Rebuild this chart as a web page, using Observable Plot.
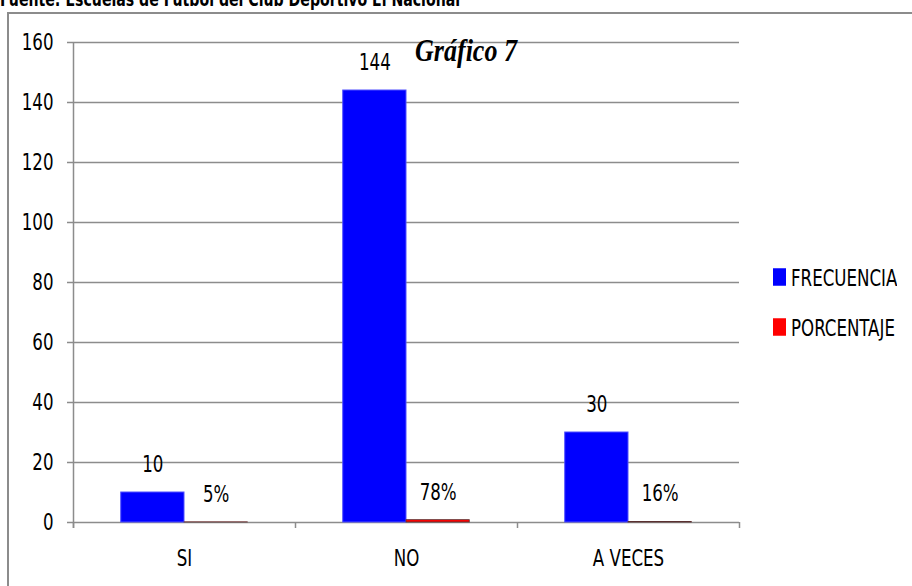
<!DOCTYPE html>
<html>
<head>
<meta charset="utf-8">
<script src="https://cdn.jsdelivr.net/npm/d3@7"></script>
<script src="https://cdn.jsdelivr.net/npm/@observablehq/plot@0.6"></script>
<style>
  body { margin: 0; background: #fff; width: 912px; height: 586px; overflow: hidden; position: relative;
         font-family: "DejaVu Sans Condensed", "Liberation Sans Narrow", sans-serif; }
  #fuente { position: absolute; left: 0; top: -8px; font-weight: bold; font-size: 15.7px; white-space: nowrap;
            transform: scaleY(1.2); transform-origin: 0 100%; }
  #marco { position: absolute; left: 7px; top: 12px; width: 940px; height: 620px;
           border-left: 2px solid #8c8c8c; border-top: 2px solid #8c8c8c; pointer-events: none; }
  #grafico { position: absolute; left: 0; top: 0; }
  #grafico text { fill: #000; }
  #titulo { position: absolute; left: 366px; top: 38px; width: 200px; text-align: center;
            font-family: "Liberation Serif", "DejaVu Serif", serif; font-weight: bold; font-style: italic;
            font-size: 26px; line-height: 26px; transform: scaleY(1.2); transform-origin: 50% 50%; }
  #leyenda { position: absolute; left: 773px; top: 252px; }
  #leyenda .ley-swatches { margin: 0; font-family: inherit; font-size: 18.5px; color: #000; }
  #leyenda .ley-swatch { height: 50px; padding: 0; display: flex; align-items: center;
                         transform: scaleY(1.25); transform-origin: 0 50%; }
  #leyenda .ley-swatch svg { margin-right: 5px; }
</style>
</head>
<body>
<div id="fuente">Fuente: Escuelas de Futbol del Club Deportivo El Nacional</div>
<div id="grafico"></div>
<div id="titulo">Gráfico 7</div>
<div id="leyenda"></div>
<div id="marco"></div>
<script>
// Respuestas por categoría
const categorias = ["SI", "NO", "A VECES"];
const frecuencia = [10, 144, 30];
const porcentaje = [0.05, 0.78, 0.16];
const series = ["FRECUENCIA", "PORCENTAJE"];
const colores = ["#0000ff", "#ff0000"];
const ticksY = [0, 20, 40, 60, 80, 100, 120, 140, 160];

const ANCHO = 0.285;          // ancho de cada barra, en unidades de categoría
const GRIS = "#8c8c8c";
const filas = categorias.map((c, i) => ({i, categoria: c, frecuencia: frecuencia[i], porcentaje: porcentaje[i]}));
const limites = d3.range(categorias.length + 1).map(k => k - 0.5);
const pct = d3.format(".0%");

const grafico = Plot.plot({
  width: 912,
  height: 586,
  marginLeft: 73,
  marginRight: 173,
  marginTop: 42,
  marginBottom: 64,
  style: {background: "transparent", color: GRIS, fontFamily: "'DejaVu Sans Condensed', 'Liberation Sans Narrow', sans-serif", fontSize: "18.5px"},
  x: {domain: [-0.5, categorias.length - 0.5], ticks: d3.range(categorias.length), tickFormat: i => categorias[i],
      tickSize: 0, tickPadding: 27, label: null},
  y: {domain: [0, 160], ticks: ticksY, tickSize: 0, tickPadding: 20, label: null},
  marks: [
    // líneas de división con su marca en el eje
    Plot.ruleY(ticksY, {stroke: GRIS, strokeWidth: 1.5, insetLeft: -6}),
    // eje vertical
    Plot.ruleX([-0.5], {y1: 160, y2: 0, insetBottom: -6, stroke: GRIS, strokeWidth: 1.5}),
    // marcas entre categorías
    Plot.ruleX(limites, {y1: 0, y2: 0, insetBottom: -6, stroke: GRIS, strokeWidth: 1.5}),
    Plot.rect(filas, {x1: d => d.i - ANCHO, x2: d => d.i, y1: 0, y2: "frecuencia",
                      fill: colores[0], stroke: "#5050ff", strokeWidth: 1}),
    Plot.rect(filas, {x1: d => d.i, x2: d => d.i + ANCHO, y1: 0, y2: "porcentaje",
                      fill: colores[1], stroke: "#5a3030", strokeWidth: 0.8}),
    Plot.text(filas, {x: d => d.i - ANCHO / 2, y: "frecuencia", text: d => String(d.frecuencia), dy: -28}),
    Plot.text(filas, {x: d => d.i + ANCHO / 2, y: "porcentaje", text: d => pct(d.porcentaje), dy: -28})
  ]
});

// letra algo más alta que ancha
grafico.querySelectorAll("text").forEach(t => {
  const tr = t.getAttribute("transform");
  if (tr) t.setAttribute("transform", tr + " scale(1,1.25)");
  else {
    const x = t.getAttribute("x") || 0, y = t.getAttribute("y") || 0;
    t.setAttribute("x", 0); t.setAttribute("y", 0);
    t.setAttribute("transform", `translate(${x},${y}) scale(1,1.25)`);
  }
});
document.getElementById("grafico").appendChild(grafico);

const leyenda = Plot.legend({
  color: {type: "ordinal", domain: series, range: colores},
  legend: "swatches",
  columns: 1,
  swatchWidth: 13,
  swatchHeight: 14,
  className: "ley"
});
document.getElementById("leyenda").appendChild(leyenda);
</script>
</body>
</html>
